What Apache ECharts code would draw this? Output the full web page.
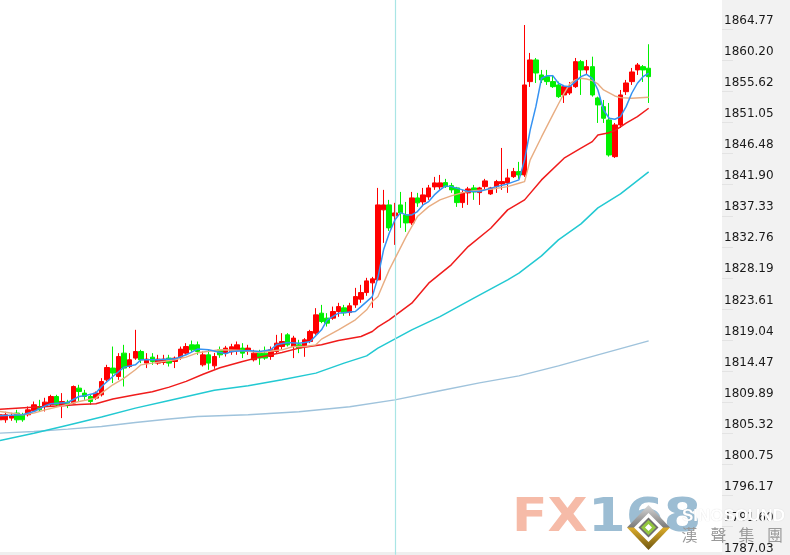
<!DOCTYPE html>
<html>
<head>
<meta charset="utf-8">
<script src="https://cdn.jsdelivr.net/npm/echarts/dist/echarts.min.js"></script>
<style>
html,body{margin:0;padding:0;background:#ffffff;}
#chart{width:790px;height:555px;}
</style>
</head>
<body>
<div id="chart"></div>
<script>
// ---------- data ----------
const slotCount = 129;               // candle slots on the time axis (last ones empty)
const categories = [];
for (let i = 0; i < slotCount; i++) categories.push('T' + (i + 1));

// [open, close, low, high]
const candles = [
[1806.04,1806.78,1805.56,1807.26],[1806.04,1806.78,1805.60,1807.22],[1806.29,1806.63,1805.89,1807.07],[1807.03,1806.04,1805.60,1807.51],
[1806.78,1806.04,1805.75,1807.07],[1806.78,1807.51,1806.53,1808.00],[1807.36,1808.25,1807.22,1808.73],[1808.00,1807.51,1807.26,1808.98],
[1808.00,1808.64,1807.26,1809.28],[1808.25,1809.47,1808.00,1809.72],[1809.47,1808.25,1808.00,1809.72],[1808.14,1808.73,1806.29,1809.97],
[1808.64,1808.14,1807.76,1808.98],[1808.50,1810.94,1808.35,1811.09],[1810.70,1810.20,1808.73,1811.19],[1809.97,1809.47,1808.98,1810.45],
[1809.47,1808.73,1808.25,1809.82],[1809.23,1809.97,1808.98,1810.20],[1809.72,1811.67,1809.47,1812.17],[1811.92,1813.73,1811.67,1814.13],
[1813.65,1812.91,1811.44,1816.82],[1812.41,1815.35,1811.92,1815.85],[1815.85,1813.65,1810.94,1817.07],[1813.88,1814.87,1813.65,1815.85],
[1815.12,1816.09,1814.87,1819.28],[1816.09,1814.87,1814.38,1816.34],[1814.38,1814.97,1813.65,1815.85],[1815.26,1814.62,1814.13,1815.85],
[1814.38,1814.97,1814.13,1815.60],[1814.47,1814.97,1814.13,1815.60],[1815.12,1814.38,1813.88,1815.60],[1814.62,1815.12,1813.65,1815.35],
[1815.26,1816.44,1814.87,1816.82],[1815.85,1816.82,1815.60,1817.32],[1817.07,1816.34,1816.04,1817.70],[1817.07,1816.09,1815.60,1817.56],
[1814.13,1815.60,1813.88,1816.09],[1815.60,1814.38,1813.40,1816.34],[1813.98,1815.35,1813.54,1815.89],[1816.34,1815.60,1815.16,1816.82],
[1815.85,1816.59,1815.35,1816.92],[1816.04,1816.78,1815.60,1817.22],[1816.24,1817.07,1815.60,1817.56],[1816.59,1815.85,1815.12,1817.32],
[1816.09,1816.59,1815.60,1817.07],[1814.87,1815.85,1814.62,1816.34],[1816.09,1815.12,1814.13,1816.34],[1815.85,1815.12,1814.87,1816.82],
[1815.35,1816.34,1814.87,1816.82],[1816.09,1817.32,1815.85,1818.54],[1816.82,1817.56,1816.34,1818.79],[1818.54,1817.07,1816.82,1818.79],
[1816.82,1818.06,1815.12,1818.40],[1817.07,1816.59,1815.85,1817.81],[1816.82,1817.81,1815.31,1818.06],[1817.56,1819.03,1817.32,1819.28],
[1818.79,1821.48,1818.54,1822.47],[1821.73,1820.50,1820.26,1822.95],[1821.00,1820.26,1819.76,1821.73],[1821.00,1821.97,1820.75,1822.70],
[1821.97,1822.70,1821.19,1823.25],[1822.51,1821.78,1821.34,1822.95],[1821.82,1822.81,1821.34,1823.25],[1822.95,1824.17,1822.51,1825.45],
[1823.79,1824.76,1823.25,1825.90],[1824.76,1826.48,1824.28,1826.93],[1826.19,1826.78,1822.51,1827.07],[1826.63,1837.66,1826.48,1840.16],
[1836.93,1837.66,1832.07,1839.87],[1837.66,1834.28,1833.84,1838.40],[1836.04,1836.48,1831.78,1837.96],[1837.66,1836.48,1834.28,1839.57],
[1836.19,1835.01,1833.69,1838.10],[1835.01,1838.69,1834.72,1839.57],[1838.69,1837.96,1837.37,1839.43],[1838.10,1839.13,1837.66,1840.16],
[1838.84,1840.16,1838.40,1840.60],[1840.31,1840.90,1839.87,1841.78],[1840.31,1840.90,1839.87,1842.07],[1840.94,1840.35,1840.16,1841.49],
[1840.50,1839.87,1839.43,1840.90],[1840.16,1838.00,1837.37,1840.31],[1838.00,1839.43,1837.22,1839.87],[1839.43,1840.01,1837.66,1840.31],
[1840.16,1839.57,1838.40,1840.60],[1839.47,1840.16,1837.66,1840.31],[1840.35,1841.19,1839.87,1841.49],[1839.28,1840.16,1839.13,1840.31],
[1840.35,1841.09,1839.43,1841.34],[1840.75,1841.09,1839.87,1846.04],[1840.90,1841.63,1839.43,1842.96],[1841.82,1842.56,1841.63,1843.10],
[1842.56,1842.07,1841.49,1843.99],[1842.07,1855.31,1841.78,1864.13],[1855.80,1858.99,1855.02,1860.02],[1858.99,1857.07,1855.60,1859.28],
[1856.78,1856.05,1855.60,1857.52],[1856.53,1855.80,1855.31,1857.52],[1855.80,1855.06,1854.87,1856.78],[1855.31,1853.59,1853.40,1855.80],
[1853.84,1855.06,1852.66,1855.31],[1854.13,1855.06,1853.84,1855.75],[1855.06,1858.74,1854.87,1859.28],[1858.74,1857.52,1853.84,1858.99],
[1857.52,1858.00,1856.78,1858.99],[1858.00,1853.84,1853.59,1859.47],[1853.40,1852.37,1849.72,1853.59],[1852.12,1850.41,1849.72,1853.10],
[1850.16,1845.01,1844.76,1852.66],[1844.76,1849.43,1844.57,1849.72],[1849.43,1853.84,1848.99,1854.57],[1854.32,1855.60,1853.84,1856.05],
[1855.80,1857.22,1855.31,1857.81],[1857.52,1858.25,1856.78,1858.54],[1858.00,1857.52,1855.75,1858.25],[1857.77,1856.53,1852.66,1861.30]
];

// moving-average lines: [slot index, value]
const maBlue = [[0,1806.63],[4,1806.78],[6,1807.26],[8,1808.10],[9,1808.39],[12,1808.59],[14,1809.47],[15,1809.57],[17,1809.97],[18,1810.94],
[20,1812.41],[22,1813.79],[24,1814.13],[25,1814.87],[28,1814.87],[31,1815.01],[33,1815.60],[35,1816.44],[37,1816.34],[40,1815.75],[41,1816.09],
[44,1816.24],[46,1816.09],[48,1816.34],[49,1817.07],[51,1817.41],[53,1817.32],[54,1817.41],[55,1817.56],[57,1819.28],[58,1820.75],[60,1821.73],
[63,1821.97],[64,1822.70],[66,1824.17],[67,1827.00],[68,1831.05],[69,1833.50],[70,1835.45],[71,1836.53],[72,1836.19],[73,1836.19],[74,1836.68],
[75,1837.66],[76,1838.15],[77,1839.13],[78,1839.87],[79,1840.46],[80,1840.35],[82,1839.87],[83,1839.62],[85,1839.62],[86,1839.87],[88,1840.35],
[90,1840.75],[92,1841.34],[93,1844.28],[94,1848.69],[95,1852.12],[96,1856.29],[97,1856.68],[98,1856.68],[99,1855.56],[100,1855.16],[101,1855.06],
[102,1855.80],[103,1856.53],[104,1856.88],[105,1856.29],[106,1854.57],[107,1851.63],[108,1850.41],[109,1850.26],[110,1850.65],[111,1852.12],
[112,1854.09],[113,1855.56],[114,1856.53],[115,1857.03]];
const maTan = [[0,1807.26],[4,1806.78],[6,1807.03],[8,1807.51],[11,1808.10],[14,1808.73],[17,1809.23],[18,1809.97],[20,1811.19],[22,1812.17],
[24,1813.40],[25,1814.13],[27,1814.38],[31,1814.87],[33,1815.26],[35,1815.90],[39,1816.34],[43,1816.24],[46,1815.94],[50,1816.34],[52,1816.82],
[54,1816.82],[56,1817.07],[57,1817.91],[60,1819.28],[63,1820.75],[65,1822.22],[66,1823.44],[67,1824.17],[69,1828.10],[72,1833.00],[74,1835.94],
[76,1837.41],[78,1838.40],[80,1838.99],[82,1839.47],[84,1839.76],[87,1839.97],[90,1840.35],[92,1840.85],[93,1841.09],[94,1844.28],[96,1847.66],
[97,1849.28],[98,1850.90],[99,1852.51],[100,1854.07],[101,1855.46],[102,1856.05],[103,1856.29],[104,1856.19],[105,1855.94],[106,1855.46],
[107,1854.57],[109,1853.69],[110,1853.44],[112,1853.35],[115,1853.50]];
const maRed = [[0,1807.61],[5,1807.85],[11,1808.10],[14,1808.29],[17,1808.39],[20,1809.09],[24,1809.72],[27,1810.16],[30,1810.85],[33,1811.70],
[36,1812.75],[39,1813.70],[43,1814.62],[46,1815.26],[50,1815.94],[53,1816.59],[57,1817.07],[60,1817.70],[64,1818.29],[66,1819.03],[67,1819.72],
[69,1820.75],[73,1823.20],[76,1826.14],[80,1828.84],[83,1831.53],[87,1834.23],[90,1836.93],[93,1838.40],[96,1841.34],[100,1844.53],[103,1846.00],
[105,1846.97],[106,1847.96],[108,1848.29],[109,1848.59],[111,1849.68],[113,1850.65],[115,1851.88]];
const maCyan = [[0,1803.00],[6,1804.05],[12,1805.25],[18,1806.44],[24,1807.76],[30,1808.88],[38,1810.40],[44,1811.04],[50,1811.92],
[56,1812.91],[61,1814.38],[65,1815.45],[67,1816.59],[73,1819.28],[78,1821.23],[84,1823.94],[90,1826.63],[92,1827.62],[96,1830.16],[99,1832.51],
[103,1834.87],[106,1837.22],[110,1839.28],[115,1842.51]];
const maSteel = [[0,1804.08],[6,1804.32],[12,1804.67],[18,1805.06],[24,1805.65],[30,1806.15],[35,1806.53],[44,1806.78],[53,1807.22],[62,1807.96],
[70,1808.98],[78,1810.31],[85,1811.48],[92,1812.51],[99,1813.98],[106,1815.60],[115,1817.66]];

const yTickLabels = ['1787.03','1791.60','1796.17','1800.75','1805.32','1809.89','1814.47','1819.04','1823.61',
                     '1828.19','1832.76','1837.33','1841.90','1846.48','1851.05','1855.62','1860.20','1864.77'];
const crossIndex = 70;   // candle under the vertical crosshair

// ---------- chart ----------
const tickValues = yTickLabels.map(Number);
const chart = echarts.init(document.getElementById('chart'), null, {renderer: 'canvas'});

function maSeries(data, color, width, z) {
  return {type: 'line', data: data, showSymbol: false, symbol: 'none', smooth: false,
          lineStyle: {color: color, width: width}, silent: true, z: z};
}

const option = {
  animation: false,
  backgroundColor: '#ffffff',
  grid: {left: 0, right: 68, top: 0, bottom: 0, containLabel: false},
  xAxis: {
    type: 'category', data: categories, boundaryGap: false,
    axisLine: {show: false}, axisTick: {show: false}, axisLabel: {show: false}, splitLine: {show: false}
  },
  yAxis: {
    type: 'value', position: 'right', min: 1786.20, max: 1867.81, scale: true,
    axisLine: {show: false}, splitLine: {show: false},
    axisTick: {show: true, inside: false, length: 11, customValues: tickValues.map(v => v - 1.27),
               lineStyle: {color: '#e3e3e3', width: 1}},
    axisLabel: {show: true, customValues: tickValues, margin: 2, color: '#1a1a1a',
                fontFamily: '"DejaVu Sans", Verdana, sans-serif', fontSize: 12,
                formatter: v => v.toFixed(2)}
  },
  graphic: [
    {type: 'rect', z: -10, silent: true, shape: {x: 722, y: 0, width: 68, height: 555}, style: {fill: '#f2f2f2'}},
    {type: 'rect', z: -10, silent: true, shape: {x: 0, y: 552, width: 722, height: 3}, style: {fill: '#efefef'}},
    // watermark
    {type: 'text', z: 100, silent: true, x: 512, y: 519, scaleX: 1.13, style: {text: 'FX', fill: '#f6bba8',
      font: 'bold 46px "DejaVu Sans"', verticalAlign: 'middle', align: 'left'}},
    {type: 'text', z: 100, silent: true, x: 588, y: 519, scaleX: 1.18, style: {text: '168', fill: '#9cbdd3',
      font: 'bold 46px "DejaVu Sans"', verticalAlign: 'middle', align: 'left'}},
    {type: 'polygon', z: 101, silent: true, shape: {points: [[648.5,505],[670,527.5],[648.5,550],[627,527.5]]},
      style: {fill: new echarts.graphic.LinearGradient(0, 0, 0, 1, [
        {offset: 0, color: '#d8d8d8'}, {offset: 0.48, color: '#7d7d7d'}, {offset: 0.52, color: '#d9aa2a'}, {offset: 1, color: '#6d5510'}])}},
    {type: 'polygon', z: 102, silent: true, shape: {points: [[648.5,513],[663,527.5],[648.5,542],[634,527.5]]}, style: {fill: '#ffffff'}},
    {type: 'polygon', z: 103, silent: true, shape: {points: [[648.5,517.5],[658.5,527.5],[648.5,537.5],[638.5,527.5]]}, style: {fill: '#6e6e6e'}},
    {type: 'polygon', z: 104, silent: true, shape: {points: [[648.5,520],[656,527.5],[648.5,535],[641,527.5]]}, style: {fill: '#93c83e'}},
    {type: 'polygon', z: 105, silent: true, shape: {points: [[648.5,524],[652,527.5],[648.5,531],[645,527.5]]}, style: {fill: '#ffffff'}},
    {type: 'text', z: 100, silent: true, x: 682, y: 516, style: {text: 'SINOSOUND', fill: '#ffffff',
      font: 'bold 17px "Liberation Sans"', verticalAlign: 'middle', align: 'left',
      textShadowColor: 'rgba(0,0,0,0.18)', textShadowBlur: 1}},
    {type: 'text', z: 100, silent: true, x: 689.5, y: 535, style: {text: '漢', fill: '#999999', font: '16px "Noto Sans CJK TC"', align: 'center', verticalAlign: 'middle'}},
    {type: 'text', z: 100, silent: true, x: 718.5, y: 535, style: {text: '聲', fill: '#999999', font: '16px "Noto Sans CJK TC"', align: 'center', verticalAlign: 'middle'}},
    {type: 'text', z: 100, silent: true, x: 746.5, y: 535, style: {text: '集', fill: '#999999', font: '16px "Noto Sans CJK TC"', align: 'center', verticalAlign: 'middle'}},
    {type: 'text', z: 100, silent: true, x: 775, y: 535, style: {text: '團', fill: '#999999', font: '16px "Noto Sans CJK TC"', align: 'center', verticalAlign: 'middle'}}
  ],
  series: [
    maSeries(maSteel, '#9fc3dc', 1.4, 3),
    maSeries(maCyan, '#22c9d2', 1.5, 3),
    maSeries(maRed, '#f01c1c', 1.5, 3),
    {
      type: 'candlestick', data: candles, barWidth: 5, z: 2,
      itemStyle: {color: '#ff0000', color0: '#00f000', borderColor: '#ff0000', borderColor0: '#00f000', borderWidth: 1},
      markLine: {silent: true, symbol: ['none', 'none'], label: {show: false}, animation: false,
                 lineStyle: {color: '#a9e5e5', width: 1.2, type: 'solid'},
                 data: [{xAxis: categories[crossIndex]}]}
    },
    maSeries(maTan, '#e8ad82', 1.4, 5),
    maSeries(maBlue, '#3592f2', 1.5, 6)
  ]
};
chart.setOption(option);
</script>
</body>
</html>
